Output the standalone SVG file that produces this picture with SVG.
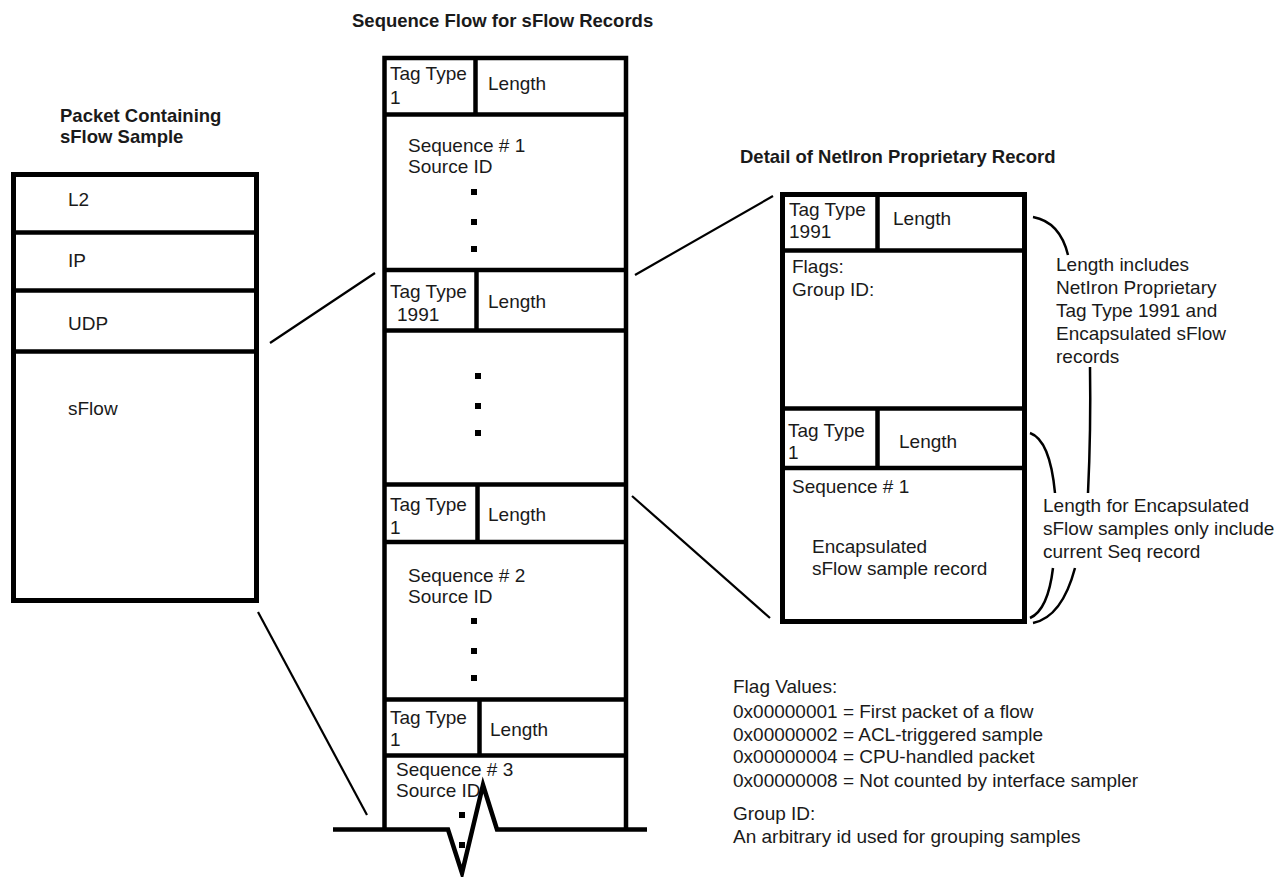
<svg xmlns="http://www.w3.org/2000/svg" width="1279" height="877" viewBox="0 0 1279 877">
<style>
text{font-family:"Liberation Sans",Arial,sans-serif;font-size:19px;fill:#1a1a1a}
.b{font-weight:bold;font-size:18.5px}
.box{fill:#fff;stroke:#000;stroke-width:5}
.sep{stroke:#000;stroke-width:4.5;fill:none}
.con{stroke:#000;stroke-width:2.2;fill:none}
.br{stroke:#000;stroke-width:2.5;fill:none}
.dot{fill:#000}
</style>
<rect width="1279" height="877" fill="#fff"/>

<g id="titles">
<text class="b" x="60" y="122">Packet Containing</text>
<text class="b" x="60" y="143">sFlow Sample</text>
<text class="b" x="352" y="27">Sequence Flow for sFlow Records</text>
<text class="b" x="740" y="163">Detail of NetIron Proprietary Record</text>
</g>

<g id="connectors">
<line class="con" x1="270" y1="343" x2="375" y2="273"/>
<line class="con" x1="258" y1="612" x2="367" y2="815"/>
<line class="con" x1="635" y1="275" x2="773" y2="196"/>
<line class="con" x1="632" y1="496" x2="770" y2="618"/>
</g>

<g id="packet">
<rect class="box" x="13.5" y="174.5" width="243" height="426"/>
<line class="sep" x1="13.5" y1="232.5" x2="256.5" y2="232.5"/>
<line class="sep" x1="13.5" y1="290.5" x2="256.5" y2="290.5"/>
<line class="sep" x1="13.5" y1="351.5" x2="256.5" y2="351.5"/>
<text x="68" y="206">L2</text>
<text x="68" y="267">IP</text>
<text x="68" y="330">UDP</text>
<text x="68" y="415">sFlow</text>
</g>

<g id="sequence-flow">
<path class="sep" stroke-width="5" d="M384.5,829.5 V58 H626 V829.5"/>
<line class="sep" x1="384.5" y1="114.5" x2="626" y2="114.5"/>
<line class="sep" x1="475.5" y1="58" x2="475.5" y2="114.5"/>
<line class="sep" x1="384.5" y1="270" x2="626" y2="270"/>
<line class="sep" x1="384.5" y1="330.5" x2="626" y2="330.5"/>
<line class="sep" x1="476.5" y1="270" x2="476.5" y2="330.5"/>
<line class="sep" x1="384.5" y1="484.5" x2="626" y2="484.5"/>
<line class="sep" x1="384.5" y1="542" x2="626" y2="542"/>
<line class="sep" x1="477.5" y1="484.5" x2="477.5" y2="542"/>
<line class="sep" x1="384.5" y1="699.5" x2="626" y2="699.5"/>
<line class="sep" x1="384.5" y1="755.5" x2="626" y2="755.5"/>
<line class="sep" x1="479.5" y1="699.5" x2="479.5" y2="755.5"/>

<text x="390" y="80">Tag Type</text>
<text x="390" y="104">1</text>
<text x="488" y="90">Length</text>
<text x="408" y="152">Sequence # 1</text>
<text x="408" y="173">Source ID</text>
<rect class="dot" x="471" y="189" width="6" height="6"/>
<rect class="dot" x="471" y="219" width="6" height="6"/>
<rect class="dot" x="471" y="246" width="6" height="6"/>

<text x="390" y="298">Tag Type</text>
<text x="397" y="321">1991</text>
<text x="488" y="308">Length</text>
<rect class="dot" x="475" y="373" width="6" height="6"/>
<rect class="dot" x="475" y="403" width="6" height="6"/>
<rect class="dot" x="475" y="430" width="6" height="6"/>

<text x="390" y="511">Tag Type</text>
<text x="390" y="534">1</text>
<text x="488" y="521">Length</text>
<text x="408" y="582">Sequence # 2</text>
<text x="408" y="603">Source ID</text>
<rect class="dot" x="471" y="618" width="6" height="6"/>
<rect class="dot" x="471" y="648" width="6" height="6"/>
<rect class="dot" x="471" y="675" width="6" height="6"/>

<text x="390" y="724">Tag Type</text>
<text x="390" y="746">1</text>
<text x="490" y="736">Length</text>
<text x="396" y="776">Sequence # 3</text>
<text x="396" y="797">Source ID</text>
<rect class="dot" x="459" y="812" width="6" height="6"/>
<rect class="dot" x="459" y="842" width="6" height="6"/>
<path class="sep" stroke-width="5" d="M333,829.5 H448 L462,873 L483,785 L497,829.5 H647"/>
</g>

<g id="detail">
<rect class="box" x="782.5" y="194.5" width="242" height="427"/>
<line class="sep" x1="782.5" y1="250.5" x2="1024.5" y2="250.5"/>
<line class="sep" x1="877.5" y1="194.5" x2="877.5" y2="250.5"/>
<line class="sep" x1="782.5" y1="408.5" x2="1024.5" y2="408.5"/>
<line class="sep" x1="782.5" y1="468" x2="1024.5" y2="468"/>
<line class="sep" x1="877.5" y1="408.5" x2="877.5" y2="468"/>
<text x="789" y="216">Tag Type</text>
<text x="789" y="238">1991</text>
<text x="893" y="225">Length</text>
<text x="792" y="273">Flags:</text>
<text x="792" y="296">Group ID:</text>
<text x="788" y="437">Tag Type</text>
<text x="788" y="459">1</text>
<text x="899" y="448">Length</text>
<text x="792" y="493">Sequence # 1</text>
<text x="812" y="553">Encapsulated</text>
<text x="812" y="575">sFlow sample record</text>
</g>

<g id="annotations">
<path class="br" d="M1033,217 Q1060,222 1068,255"/>
<path class="br" d="M1090,367 Q1091,430 1088,493"/>
<path class="br" d="M1075,568 Q1062,617 1033,623"/>
<path class="br" d="M1030,433 Q1050,440 1055,493"/>
<path class="br" d="M1053,568 Q1048,610 1030,618"/>
<text x="1056" y="271">Length includes</text>
<text x="1056" y="294">NetIron Proprietary</text>
<text x="1056" y="317">Tag Type 1991 and</text>
<text x="1056" y="340">Encapsulated sFlow</text>
<text x="1056" y="363">records</text>
<text x="1043" y="512">Length for Encapsulated</text>
<text x="1043" y="535">sFlow samples only include</text>
<text x="1043" y="558">current Seq record</text>
</g>

<g id="legend">
<text x="733" y="693">Flag Values:</text>
<text x="733" y="718">0x00000001 = First packet of a flow</text>
<text x="733" y="741">0x00000002 = ACL-triggered sample</text>
<text x="733" y="763">0x00000004 = CPU-handled packet</text>
<text x="733" y="787">0x00000008 = Not counted by interface sampler</text>
<text x="733" y="820">Group ID:</text>
<text x="733" y="843">An arbitrary id used for grouping samples</text>
</g>
</svg>
